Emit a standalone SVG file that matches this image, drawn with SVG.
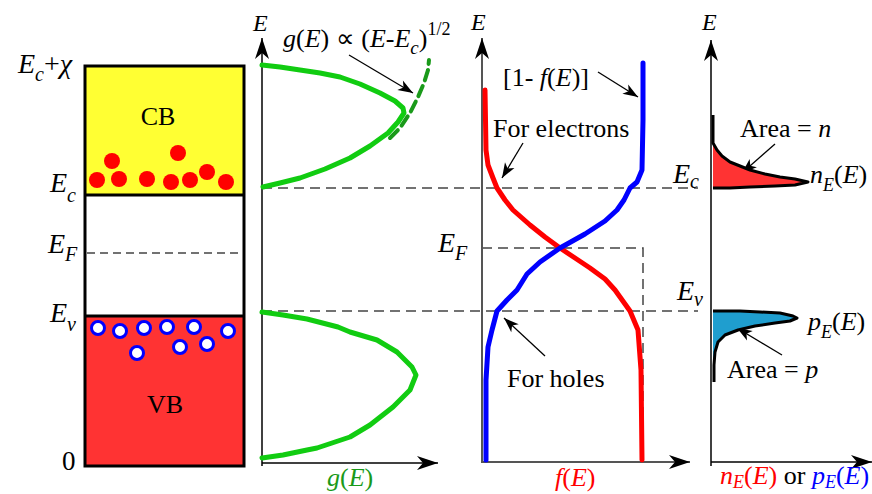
<svg xmlns="http://www.w3.org/2000/svg" width="872" height="494" viewBox="0 0 872 494" font-family="'Liberation Serif', 'Times New Roman', serif">
<defs>
<marker id="ax" markerUnits="userSpaceOnUse" markerWidth="24" markerHeight="16" viewBox="-22 -8 24 16" refX="0" refY="0" orient="auto"><path d="M0,0 L-21,-7 L-15,0 L-21,7 Z" fill="#000"/></marker>
<marker id="ar" markerUnits="userSpaceOnUse" markerWidth="18" markerHeight="12" viewBox="-16 -6 18 12" refX="0" refY="0" orient="auto"><path d="M0,0 L-15,-5.5 L-11,0 L-15,5.5 Z" fill="#000"/></marker>
</defs>
<style>
text{fill:#000}
.t{font-size:26px}
.e{font-size:28px;font-style:italic}
.i{font-style:italic}
.axl{font-size:24px;font-style:italic}
.dash{stroke:#444;stroke-width:1.5;stroke-dasharray:10 6;fill:none}
.axis{stroke:#000;stroke-width:1.5;fill:none}
.ann{stroke:#000;stroke-width:1.3;fill:none;marker-end:url(#ar)}
.g{stroke:#11cc11;stroke-width:5;fill:none;stroke-linejoin:round;stroke-linecap:round}
.elec{fill:#ff0000}
.hole{fill:#fff;stroke:#0000ff;stroke-width:3}
</style>

<g id="band-diagram">
<rect x="85" y="66" width="159" height="129" fill="#ffff33"/>
<rect x="85" y="195" width="159" height="121" fill="#fff"/>
<rect x="85" y="316" width="159" height="150" fill="#ff3333"/>
<rect x="85" y="66" width="159" height="400" fill="none" stroke="#000" stroke-width="3"/>
<line x1="85" y1="195" x2="244" y2="195" stroke="#000" stroke-width="3"/>
<line x1="85" y1="316" x2="244" y2="316" stroke="#000" stroke-width="3"/>
<line x1="87" y1="253" x2="243" y2="253" stroke="#444" stroke-width="1.3" stroke-dasharray="8 5"/>
<text class="t" x="158" y="125" text-anchor="middle">CB</text>
<text class="t" x="165" y="413" text-anchor="middle">VB</text>
<g id="electrons">
<circle class="elec" cx="97" cy="180" r="8"/><circle class="elec" cx="112" cy="161" r="8"/><circle class="elec" cx="119" cy="179" r="8"/><circle class="elec" cx="147" cy="179" r="8"/><circle class="elec" cx="178" cy="153" r="8"/><circle class="elec" cx="171" cy="182" r="8"/><circle class="elec" cx="190" cy="180" r="8"/><circle class="elec" cx="207" cy="172" r="8"/><circle class="elec" cx="226" cy="182" r="8"/>
</g>
<g id="holes">
<circle class="hole" cx="98" cy="328" r="6.5"/><circle class="hole" cx="120" cy="331" r="6.5"/><circle class="hole" cx="144" cy="328" r="6.5"/><circle class="hole" cx="167" cy="327" r="6.5"/><circle class="hole" cx="194" cy="327" r="6.5"/><circle class="hole" cx="228" cy="331" r="6.5"/><circle class="hole" cx="137" cy="353" r="6.5"/><circle class="hole" cx="180" cy="347" r="6.5"/><circle class="hole" cx="207" cy="344" r="6.5"/>
</g>
<text class="e" x="18" y="73">E<tspan font-size="20" dy="8">c</tspan><tspan dy="-8" font-style="normal">+</tspan>χ</text>
<text class="e" x="50" y="192">E<tspan font-size="20" dy="10">c</tspan></text>
<text class="e" x="48" y="253">E<tspan font-size="20" dy="8">F</tspan></text>
<text class="e" x="50" y="322">E<tspan font-size="20" dy="9">v</tspan></text>
<text x="62" y="470" font-size="27">0</text>
</g>

<g id="connectors">
<line class="dash" x1="262" y1="188" x2="698" y2="188"/>
<line class="dash" x1="262" y1="311" x2="698" y2="311"/>
<polyline class="dash" points="482,248 643,248 643,462"/>
<line class="ann" x1="349" y1="55" x2="413" y2="93"/>
<line class="ann" x1="598" y1="72" x2="638" y2="97"/>
<line class="ann" x1="523" y1="143" x2="502" y2="178"/>
<line class="ann" x1="545" y1="356" x2="504" y2="318"/>
<line class="ann" x1="775" y1="144" x2="742" y2="173"/>
<line class="ann" x1="782" y1="355" x2="737" y2="328"/>
</g>

<g id="g-panel">
<line class="axis" x1="262" y1="466" x2="262" y2="38" marker-end="url(#ax)"/>
<line class="axis" x1="262" y1="463" x2="438" y2="463" marker-end="url(#ax)"/>
<polyline class="g" points="262,65 280,67 300,70 320,73 340,77 360,84 380,93 395,101 403,108 404,113 398,122 388,133 370,146 350,158 325,169 300,178 280,183 263,187"/>
<polyline points="390,138 400,128 410,113 418,97 424,83 428,70 429,60" fill="none" stroke="#1a9a1a" stroke-width="4" stroke-dasharray="11 6" stroke-linecap="round"/>
<polyline class="g" points="262,312 283,315 307,319 338,327 350,332 377,340 397,352 412,367 416,375 410,390 393,407 370,425 350,437 317,448 307,450 283,455 262,458"/>
<text class="axl" x="253" y="31">E</text>
<text x="283" y="47" font-size="26"><tspan class="i">g</tspan>(<tspan class="i">E</tspan>) ∝ (<tspan class="i">E</tspan>-<tspan class="i">E</tspan><tspan font-size="19" dy="7" class="i">c</tspan><tspan dy="-7">)</tspan><tspan font-size="18" dy="-12">1/2</tspan></text>
<text x="327" y="486" font-size="26" style="fill:#1a9a1a"><tspan class="i">g</tspan>(<tspan class="i">E</tspan>)</text>
</g>

<g id="f-panel">
<line x1="482" y1="463" x2="482" y2="38" stroke="#555" stroke-width="2" marker-end="url(#ax)"/>
<line x1="482" y1="462" x2="690" y2="462" stroke="#555" stroke-width="2" marker-end="url(#ax)"/>
<polyline points="485,90 486,150 488,165 493,178 497,188 505,200 513,210 530,225 545,237 560,248 575,258 590,268 605,279 615,290 630,311 638,330 641,370 642,460" fill="none" stroke="#ff0000" stroke-width="5" stroke-linejoin="round" stroke-linecap="round"/>
<polyline points="643,63 643,120 642,170 637,182 630,188 624,200 617,210 605,221 585,234 560,248 540,262 527,274 517,290 507,300 497,311 492,330 488,347 486,380 486,460" fill="none" stroke="#0000ff" stroke-width="5" stroke-linejoin="round" stroke-linecap="round"/>
<text class="axl" x="471" y="30">E</text>
<text class="e" x="438" y="252">E<tspan font-size="20" dy="8">F</tspan></text>
<text class="t" x="503" y="86">[1- <tspan class="i">f</tspan>(<tspan class="i">E</tspan>)]</text>
<text class="t" x="493" y="137">For electrons</text>
<text class="t" x="507" y="387">For holes</text>
<text x="555" y="486" font-size="26" style="fill:#ff0000"><tspan class="i">f</tspan>(<tspan class="i">E</tspan>)</text>
<text class="e" x="673" y="183">E<tspan font-size="20" dy="5">c</tspan></text>
<text class="e" x="677" y="300">E<tspan font-size="20" dy="6">v</tspan></text>
</g>

<g id="n-panel">
<line class="axis" x1="711" y1="466" x2="711" y2="40" marker-end="url(#ax)"/>
<line class="axis" x1="711" y1="462" x2="872" y2="462" marker-end="url(#ax)"/>
<polygon points="713,143 717,150 722,156 730,162 740,166 750,170 765,174 780,177 795,179 808,182 795,185 775,186 750,187 730,188 713,188" fill="#ff3333"/>
<polyline points="713,115 713,143 717,150 722,156 730,162 740,166 750,170 765,174 780,177 795,179 808,182 795,185 775,186 750,187 730,188 713,188" fill="none" stroke="#000" stroke-width="3" stroke-linejoin="round"/>
<polygon points="713,311 740,311 760,312 780,313 793,316 797,318 790,321 775,323 755,326 738,330 725,335 718,342 715,352 714,365 713,365" fill="#1f9ecf"/>
<polyline points="713,311 740,311 760,312 780,313 793,316 797,318 790,321 775,323 755,326 738,330 725,335 718,342 715,352 714,365 714,382" fill="none" stroke="#000" stroke-width="3" stroke-linejoin="round"/>
<text class="axl" x="702" y="30">E</text>
<text class="t" x="740" y="137">Area = <tspan class="i">n</tspan></text>
<text class="t" x="727" y="378">Area = <tspan class="i">p</tspan></text>
<text class="t" x="810" y="183"><tspan class="i">n</tspan><tspan class="i" font-size="18" dy="8">E</tspan><tspan dy="-8">(</tspan><tspan class="i">E</tspan>)</text>
<text class="t" x="808" y="330"><tspan class="i">p</tspan><tspan class="i" font-size="18" dy="8">E</tspan><tspan dy="-8">(</tspan><tspan class="i">E</tspan>)</text>
<text class="t" x="720" y="484"><tspan style="fill:#ff0000"><tspan class="i">n</tspan><tspan class="i" font-size="18" dy="4">E</tspan><tspan dy="-4">(</tspan><tspan class="i">E</tspan>)</tspan> or <tspan style="fill:#0000ff"><tspan class="i">p</tspan><tspan class="i" font-size="18" dy="4">E</tspan><tspan dy="-4">(</tspan><tspan class="i">E</tspan>)</tspan></text>
</g>
</svg>
